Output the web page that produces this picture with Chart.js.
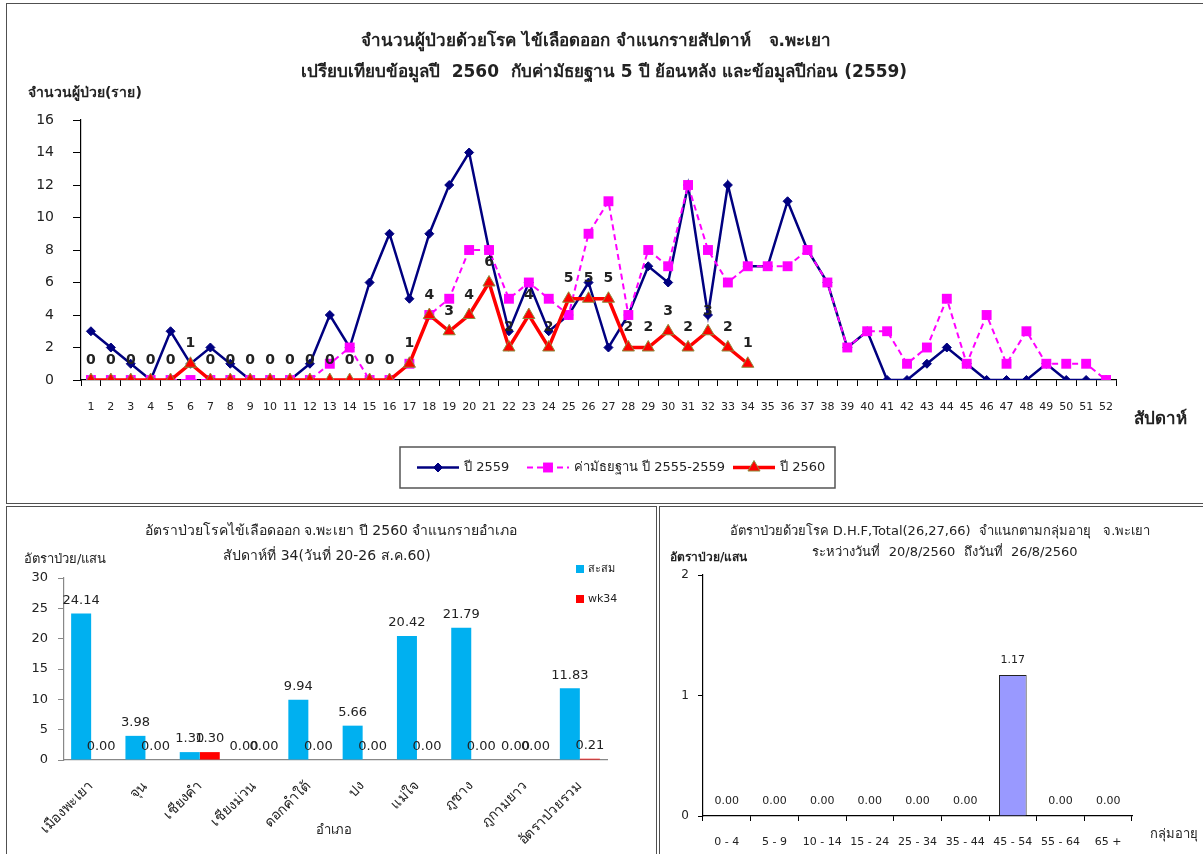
<!DOCTYPE html>
<html>
<head>
<meta charset="utf-8">
<script src="https://cdn.jsdelivr.net/npm/chart.js@4.4.0/dist/chart.umd.min.js"></script>
<style>
  body { margin: 0; background: #fff; width: 1203px; height: 854px; overflow: hidden; position: relative; }
  canvas { position: absolute; }
  .box { position: absolute; border: 1.5px solid #505050; box-sizing: border-box; }
</style>
</head>
<body>
<div class="box" style="left:6px;top:3px;width:1200px;height:501px"></div>
<div class="box" style="left:6px;top:506px;width:651px;height:352px"></div>
<div class="box" style="left:659px;top:506px;width:550px;height:352px"></div>
<canvas id="weekChart" width="1203" height="503" style="left:0;top:0"></canvas>
<canvas id="districtChart" width="657" height="347" style="left:0;top:507px"></canvas>
<canvas id="ageChart" width="543" height="347" style="left:660px;top:507px"></canvas>
<script>
const FONT = 'Tahoma, "DejaVu Sans", "Noto Sans", sans-serif';
Chart.defaults.font.family = FONT;
Chart.defaults.color = "#222";

// weekly cases
const weeks = ["1","2","3","4","5","6","7","8","9","10","11","12","13","14","15","16","17","18","19","20",
  "21","22","23","24","25","26","27","28","29","30","31","32","33","34","35","36","37","38","39","40",
  "41","42","43","44","45","46","47","48","49","50","51","52"];
const cases2559 = [3,2,1,0,3,1,2,1,0,0, 0,1,4,2,6,9,5,9,12,14, 8,3,6,3,4,6,2,4,7,6,
  12,4,12,7,7,11,8,6,2,3, 0,0,1,2,1,0,0,0,1,0, 0,0];
const median5y = [0,0,0,0,0,0,0,0,0,0, 0,0,1,2,0,0,1,4,5,8, 8,5,6,5,4,9,11,4,8,7,
  12,8,6,7,7,7,8,6,2,3, 3,1,2,5,1,4,1,3,1,1, 1,0];
const cases2560 = [0,0,0,0,0,1,0,0,0,0, 0,0,0,0,0,0,1,4,3,4, 6,2,4,2,5,5,5,2,2,3, 2,3,2,1];

// rate by district
const districts = ["เมืองพะเยา","จุน","เชียงคำ","เชียงม่วน","ดอกคำใต้","ปง","แม่ใจ","ภูซาง","ภูกามยาว","อัตราป่วยรวม"];
const cumRate = [24.14,3.98,1.30,0.00,9.94,5.66,20.42,21.79,0.00,11.83];
const wk34Rate = [0.00,0.00,1.30,0.00,0.00,0.00,0.00,0.00,0.00,0.21];

// rate by age group
const ageGroups = ["0 - 4","5 - 9","10 - 14","15 - 24","25 - 34","35 - 44","45 - 54","55 - 64","65 +"];
const ageRate = [0.00,0.00,0.00,0.00,0.00,0.00,1.17,0.00,0.00];

/* ------------------------------
   small helper plugins
------------------------------- */
const valueLabels = {
  id: "valueLabels",
  afterDatasetsDraw(chart) {
    const ctx = chart.ctx;
    chart.data.datasets.forEach((ds, i) => {
      const opt = ds.valueLabel;
      if (!opt) return;
      const meta = chart.getDatasetMeta(i);
      ctx.save();
      ctx.font = opt.font;
      ctx.fillStyle = opt.color || "#222";
      ctx.textAlign = "center";
      ctx.textBaseline = "middle";
      meta.data.forEach((el, j) => {
        const v = ds.data[j];
        if (v === null || v === undefined) return;
        const txt = opt.decimals ? v.toFixed(opt.decimals) : String(v);
        ctx.fillText(txt, el.x, el.y - opt.offset);
      });
      ctx.restore();
    });
  }
};

const extraText = {
  id: "extraText",
  afterDraw(chart, args, opts) {
    const ctx = chart.ctx;
    (opts.items || []).forEach(t => {
      ctx.save();
      ctx.font = t.font;
      ctx.fillStyle = t.color || "#222";
      ctx.textAlign = t.align || "left";
      ctx.textBaseline = "middle";
      ctx.fillText(t.text, t.x, t.y);
      ctx.restore();
    });
  }
};

// legend with line + marker samples inside a frame
const lineLegend = {
  id: "lineLegend",
  afterDraw(chart, args, opts) {
    if (!opts.box) return;
    const ctx = chart.ctx;
    const b = opts.box;
    ctx.save();
    ctx.strokeStyle = "#555";
    ctx.lineWidth = 1.5;
    ctx.strokeRect(b.x, b.y, b.w, b.h);
    const cy = b.y + b.h / 2;
    chart.data.datasets.forEach((ds, i) => {
      const x0 = opts.starts[i];
      ctx.save();
      ctx.strokeStyle = ds.borderColor;
      ctx.lineWidth = ds.borderWidth;
      ctx.setLineDash(ds.borderDash || []);
      ctx.beginPath();
      ctx.moveTo(x0, cy);
      ctx.lineTo(x0 + 42, cy);
      ctx.stroke();
      ctx.restore();
      ctx.fillStyle = ds.backgroundColor;
      ctx.strokeStyle = ds.pointBorderColor || ds.borderColor;
      ctx.lineWidth = ds.pointBorderWidth || 1;
      Chart.helpers.drawPoint(ctx, {
        pointStyle: ds.pointStyle, radius: ds.pointRadius, borderWidth: ds.pointBorderWidth || 0
      }, x0 + 21, cy);
      ctx.font = opts.font;
      ctx.fillStyle = "#222";
      ctx.textAlign = "left";
      ctx.textBaseline = "middle";
      ctx.fillText(ds.label, x0 + 47, cy);
    });
    ctx.restore();
  }
};

// square box legend (vertical)
const boxLegend = {
  id: "boxLegend",
  afterDraw(chart, args, opts) {
    if (!opts.items) return;
    const ctx = chart.ctx;
    ctx.save();
    chart.data.datasets.forEach((ds, i) => {
      const p = opts.items[i];
      ctx.fillStyle = ds.backgroundColor;
      ctx.fillRect(p.x, p.y, opts.size, opts.size);
      ctx.font = opts.font;
      ctx.fillStyle = "#222";
      ctx.textBaseline = "middle";
      ctx.fillText(ds.label, p.x + opts.size + 4, p.y + opts.size / 2);
    });
    ctx.restore();
  }
};

Chart.register(valueLabels, extraText, lineLegend, boxLegend);

const axisLine = { display: true, color: "#000", width: 1.2 };

/* ------------------------------
   WEEKLY CASES LINE CHART
------------------------------- */
new Chart(document.getElementById("weekChart"), {
  type: "line",
  data: {
    labels: weeks,
    datasets: [
      {
        label: "ปี 2559",
        data: cases2559,
        borderColor: "#000080",
        backgroundColor: "#000080",
        borderWidth: 2.5,
        pointStyle: "rectRot",
        pointRadius: 4.5,
        pointBorderWidth: 1,
        order: 3
      },
      {
        label: "ค่ามัธยฐาน ปี 2555-2559",
        data: median5y,
        borderColor: "#FF00FF",
        backgroundColor: "#FF00FF",
        borderWidth: 2,
        borderDash: [6, 4],
        pointStyle: "rect",
        pointRadius: 7,
        pointBorderWidth: 0,
        order: 2
      },
      {
        label: "ปี 2560",
        data: cases2560,
        borderColor: "#FF0000",
        backgroundColor: "#FF0000",
        pointBorderColor: "#8C8C3C",
        pointBorderWidth: 1,
        borderWidth: 3.5,
        pointStyle: "triangle",
        pointRadius: 7,
        order: 1,
        valueLabel: { font: "bold 14px " + FONT, color: "#222", offset: 20 }
      }
    ]
  },
  options: {
    responsive: false,
    animation: false,
    layout: { padding: { left: 0, right: 87, top: 120, bottom: 0 } },
    plugins: {
      legend: { display: false },
      tooltip: { enabled: false },
      extraText: {
        items: [
          { text: "จำนวนผู้ป่วยด้วยโรค ไข้เลือดออก จำแนกรายสัปดาห์   จ.พะเยา", x: 596, y: 42, font: "bold 17px " + FONT, align: "center" },
          { text: "เปรียบเทียบข้อมูลปี  2560  กับค่ามัธยฐาน 5 ปี ย้อนหลัง และข้อมูลปีก่อน (2559)", x: 604, y: 73, font: "bold 17px " + FONT, align: "center" },
          { text: "จำนวนผู้ป่วย(ราย)", x: 28, y: 93, font: "bold 14px " + FONT },
          { text: "สัปดาห์", x: 1134, y: 420, font: "bold 17px " + FONT }
        ]
      },
      lineLegend: {
        box: { x: 400, y: 447, w: 435, h: 41 },
        starts: [417, 527, 733],
        font: "13px " + FONT
      }
    },
    scales: {
      x: {
        offset: true,
        grid: { offset: true, drawOnChartArea: false, tickLength: 6, color: "#000" },
        border: axisLine,
        ticks: { font: { size: 11 }, color: "#222", padding: 15, maxRotation: 0, autoSkip: false },
        afterFit: s => { s.height = 123; }
      },
      y: {
        min: 0,
        max: 16,
        grid: { drawOnChartArea: false, tickLength: 8, color: "#000" },
        border: axisLine,
        ticks: { stepSize: 2, font: { size: 14 }, color: "#222", padding: 19 },
        afterFit: s => { s.width = 81; }
      }
    }
  }
});

/* ------------------------------
   DISTRICT RATE BAR CHART
------------------------------- */
new Chart(document.getElementById("districtChart"), {
  type: "bar",
  data: {
    labels: districts,
    datasets: [
      {
        label: "สะสม",
        data: cumRate,
        backgroundColor: "#00B0F0",
        valueLabel: { font: "13px " + FONT, color: "#222", offset: 13, decimals: 2 }
      },
      {
        label: "wk34",
        data: wk34Rate,
        backgroundColor: "#FF0000",
        valueLabel: { font: "13px " + FONT, color: "#222", offset: 13, decimals: 2 }
      }
    ]
  },
  options: {
    responsive: false,
    animation: false,
    layout: { padding: { left: 0, right: 50, top: 71, bottom: 0 } },
    datasets: { bar: { barPercentage: 1, categoryPercentage: 0.737 } },
    plugins: {
      legend: { display: false },
      tooltip: { enabled: false },
      extraText: {
        items: [
          { text: "อัตราป่วยโรคไข้เลือดออก จ.พะเยา ปี 2560 จำแนกรายอำเภอ", x: 331, y: 24, font: "14px " + FONT, align: "center" },
          { text: "สัปดาห์ที่ 34(วันที่ 20-26 ส.ค.60)", x: 327, y: 49, font: "14px " + FONT, align: "center" },
          { text: "อัตราป่วย/แสน", x: 24, y: 53, font: "13px " + FONT },
          { text: "อำเภอ", x: 334, y: 324, font: "13px " + FONT, align: "center" }
        ]
      },
      boxLegend: {
        size: 8,
        font: "11px " + FONT,
        items: [{ x: 576, y: 58 }, { x: 576, y: 88 }]
      }
    },
    scales: {
      x: {
        grid: { display: false },
        border: { display: true, color: "#888", width: 1.2 },
        ticks: { font: { size: 14 }, color: "#222", minRotation: 45, maxRotation: 45, autoSkip: false, padding: 10 },
        afterFit: s => { s.height = 94; }
      },
      y: {
        min: 0,
        max: 30,
        grid: { drawOnChartArea: false, tickLength: 6, color: "#888" },
        border: { display: true, color: "#888", width: 1.2 },
        ticks: { stepSize: 5, font: { size: 13 }, color: "#222", padding: 10 },
        afterFit: s => { s.width = 64; }
      }
    }
  }
});

/* ------------------------------
   AGE GROUP RATE BAR CHART
------------------------------- */
new Chart(document.getElementById("ageChart"), {
  type: "bar",
  data: {
    labels: ageGroups,
    datasets: [{
      label: "อัตราป่วย",
      data: ageRate,
      backgroundColor: "#9999FF",
      borderColor: "#222",
      borderWidth: 1,
      barPercentage: 0.58,
      categoryPercentage: 1,
      valueLabel: { font: "11px " + FONT, color: "#222", offset: 15, decimals: 2 }
    }]
  },
  options: {
    responsive: false,
    animation: false,
    layout: { padding: { left: 0, right: 71, top: 68, bottom: 0 } },
    plugins: {
      legend: { display: false },
      tooltip: { enabled: false },
      extraText: {
        items: [
          { text: "อัตราป่วยด้วยโรค D.H.F,Total(26,27,66)  จำแนกตามกลุ่มอายุ   จ.พะเยา", x: 280, y: 25, font: "13px " + FONT, align: "center" },
          { text: "ระหว่างวันที่  20/8/2560  ถึงวันที่  26/8/2560", x: 285, y: 46, font: "13px " + FONT, align: "center" },
          { text: "อัตราป่วย/แสน", x: 10, y: 51, font: "bold 12px " + FONT },
          { text: "กลุ่มอายุ", x: 490, y: 328, font: "13px " + FONT }
        ]
      }
    },
    scales: {
      x: {
        grid: { offset: true, drawOnChartArea: false, tickLength: 5, color: "#000" },
        border: axisLine,
        ticks: { font: { size: 11 }, color: "#222", padding: 15, maxRotation: 0, autoSkip: false },
        afterFit: s => { s.height = 38; }
      },
      y: {
        min: 0,
        max: 2,
        grid: { drawOnChartArea: false, tickLength: 5, color: "#000" },
        border: axisLine,
        ticks: { stepSize: 1, font: { size: 12 }, color: "#222", padding: 9 },
        afterFit: s => { s.width = 43; }
      }
    }
  }
});
</script>
</body>
</html>
